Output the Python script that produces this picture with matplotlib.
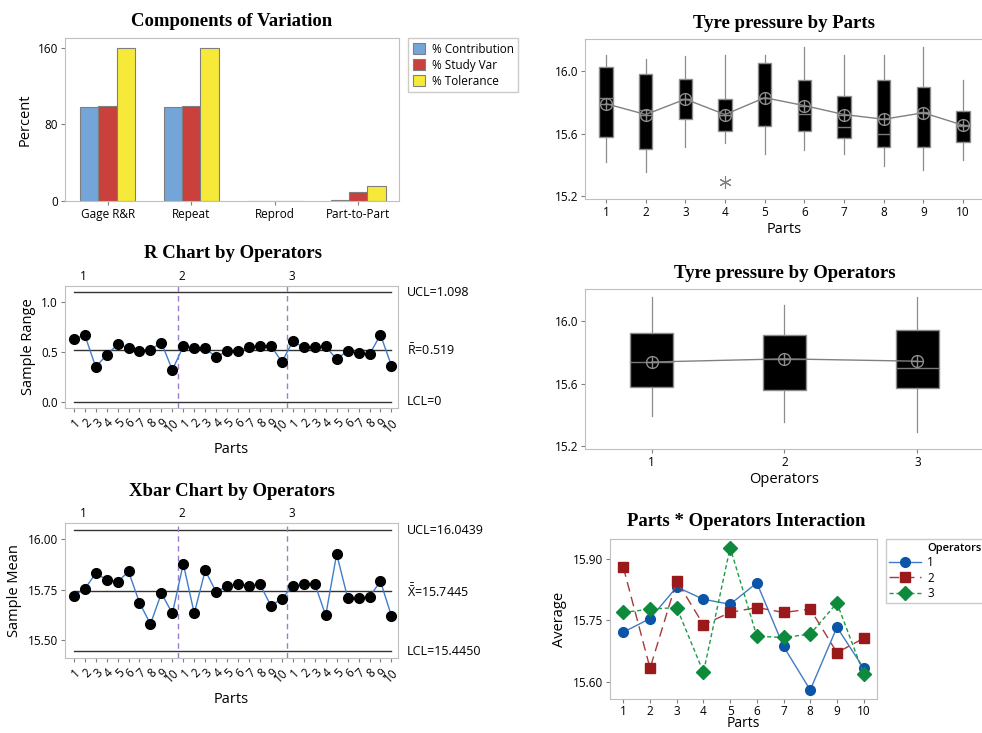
import matplotlib
matplotlib.use('Agg')
import matplotlib.pyplot as plt
import numpy as np
from matplotlib.lines import Line2D
from matplotlib.transforms import blended_transform_factory

plt.rcParams['font.family'] = ['Open Sans', 'DejaVu Sans']
plt.rcParams['mathtext.fontset'] = 'custom'
plt.rcParams['mathtext.rm'] = 'Open Sans'
plt.rcParams['mathtext.it'] = 'Open Sans:italic'
plt.rcParams['mathtext.bf'] = 'Open Sans:bold'

# ---- data ----
components = ['Gage R&R', 'Repeat', 'Reprod', 'Part-to-Part']
pct_contribution = [98.0, 97.8, 0.3, 0.8]
pct_study_var = [98.6, 98.8, 0.2, 9.0]
pct_tolerance = [159.8, 159.6, 0.1, 15.3]

part_labels = [str(i) for i in range(1, 11)]
operators = ['1', '2', '3']

range_op1 = [0.625, 0.671, 0.349, 0.468, 0.575, 0.542, 0.508, 0.522, 0.591, 0.319]
range_op2 = [0.555, 0.538, 0.538, 0.445, 0.512, 0.512, 0.545, 0.561, 0.561, 0.399]
range_op3 = [0.605, 0.545, 0.545, 0.555, 0.425, 0.512, 0.485, 0.475, 0.671, 0.362]
r_ucl, r_bar, r_lcl = 1.098, 0.519, 0.0

mean_op1 = [15.721, 15.754, 15.831, 15.801, 15.789, 15.841, 15.686, 15.580, 15.733, 15.633]
mean_op2 = [15.879, 15.633, 15.846, 15.739, 15.769, 15.781, 15.769, 15.777, 15.671, 15.706]
mean_op3 = [15.769, 15.777, 15.781, 15.623, 15.927, 15.711, 15.708, 15.716, 15.792, 15.620]
x_ucl, x_bar, x_lcl = 16.0439, 15.7445, 15.4450

# box plot summaries by part
part_whishi = [16.102, 16.076, 16.096, 16.102, 16.100, 16.153, 16.102, 16.102, 16.153, 15.941]
part_q3 = [16.025, 15.977, 15.947, 15.822, 16.049, 15.941, 15.839, 15.941, 15.894, 15.745]
part_med = [15.826, 15.747, 15.820, 15.720, 15.826, 15.722, 15.641, 15.594, 15.737, 15.645]
part_q1 = [15.578, 15.503, 15.694, 15.618, 15.645, 15.618, 15.571, 15.516, 15.516, 15.548]
part_whislo = [15.416, 15.355, 15.514, 15.539, 15.471, 15.493, 15.471, 15.391, 15.365, 15.433]
part_mean = [15.790, 15.721, 15.819, 15.721, 15.828, 15.778, 15.721, 15.691, 15.732, 15.653]
part_fliers = [[], [], [], [15.293], [], [], [], [], [], []]

# box plot summaries by operator
op_whishi = [16.153, 16.102, 16.153]
op_q3 = [15.921, 15.909, 15.943]
op_med = [15.739, 15.758, 15.700]
op_q1 = [15.578, 15.561, 15.573]
op_whislo = [15.391, 15.355, 15.293]
op_mean = [15.737, 15.757, 15.742]

# ---- figure ----
W, H = 982, 733
fig = plt.figure(figsize=(W / 100, H / 100), dpi=100)


def add_axes_px(left, top, right, bottom):
    return fig.add_axes([left / W, 1 - bottom / H, (right - left) / W, (bottom - top) / H])


def style_axes(ax):
    for s in ax.spines.values():
        s.set_color('#BFBFBF')
    ax.tick_params(color='#808080', length=3, labelsize=8.5, pad=2)


def title_px(x, y, text):
    fig.text(x / W, 1 - y / H, text, family='Liberation Serif', weight='bold',
             size=13.5, ha='center', va='center')


spine_grey = '#8C8C8C'

# 1. Components of variation
ax1 = add_axes_px(65, 38, 399, 201)
style_axes(ax1)
xpos = np.arange(len(components))
bw = 0.22
ax1.bar(xpos - bw, pct_contribution, bw, color='#74A5D8', edgecolor='#7F7F7F', lw=0.8,
        label='% Contribution')
ax1.bar(xpos, pct_study_var, bw, color='#C9403D', edgecolor='#7F7F7F', lw=0.8,
        label='% Study Var')
ax1.bar(xpos + bw, pct_tolerance, bw, color='#F6E93A', edgecolor='#7F7F7F', lw=0.8,
        label='% Tolerance')
ax1.set_xticks(xpos, components)
ax1.set_xlim(-0.51, 3.49)
ax1.set_ylim(0, 170)
ax1.set_yticks([0, 80, 160])
ax1.set_ylabel('Percent', fontsize=10.5)
ax1.legend(loc='upper left', bbox_to_anchor=(1.027, 1.0), borderaxespad=0,
           fancybox=False, edgecolor='#BFBFBF', fontsize=8.5, handlelength=1.0,
           handleheight=1.0, handletextpad=0.6, labelspacing=0.25, borderpad=0.4)
title_px(232, 21, 'Components of Variation')


def control_chart(ax, series, ucl, center, lcl, center_label, ucl_label, lcl_label, ylim, yticks, fmt, oplab_y):
    style_axes(ax)
    vals = np.concatenate(series)
    idx = np.arange(1, len(vals) + 1)
    ax.plot(idx, vals, color='#3E7ECB', lw=1, marker='o', ms=7, mfc='black', mec='black', zorder=3)
    for y in (ucl, center, lcl):
        ax.plot([idx[0], idx[-1]], [y, y], color='#333333', lw=1, zorder=2)
    n = len(series[0])
    for k in range(1, len(series)):
        ax.axvline(k * n + 0.5, color='#9A7FC8', lw=1, ls=(0, (4, 3)))
    ax.set_xlim(0.2, len(vals) + 0.6)
    ax.set_ylim(*ylim)
    ax.set_yticks(yticks, [fmt.format(t) for t in yticks])
    ax.set_xticks(idx, part_labels * len(series), rotation=45, ha='right',
                  rotation_mode='anchor', fontsize=8.5)
    ax.tick_params(axis='x', pad=3)
    ax.set_xlabel('Parts', fontsize=10.5, labelpad=5)
    tr = blended_transform_factory(ax.transAxes, ax.transData)
    for y, lab in ((ucl, ucl_label), (center, center_label), (lcl, lcl_label)):
        ax.text(1.027, y, lab, transform=tr, ha='left', va='center', fontsize=9)
    trx = blended_transform_factory(ax.transData, ax.transAxes)
    for k, op in enumerate(operators):
        ax.text(k * n + (1.9 if k == 0 else 0.9), oplab_y, op, transform=trx,
                ha='center', va='center', fontsize=8.5)


# 2. R chart
ax2 = add_axes_px(65, 286, 398, 408)
control_chart(ax2, [range_op1, range_op2, range_op3], r_ucl, r_bar, r_lcl,
              r'$\bar{\mathrm{R}}$=0.519', 'UCL=1.098', 'LCL=0',
              (-0.063, 1.16), [0.0, 0.5, 1.0], '{:.1f}', 1.08)
ax2.set_ylabel('Sample Range', fontsize=10.5)
title_px(233, 254, 'R Chart by Operators')

# 3. Xbar chart
ax3 = add_axes_px(65, 523, 398, 658)
control_chart(ax3, [mean_op1, mean_op2, mean_op3], x_ucl, x_bar, x_lcl,
              r'$\bar{\bar{\mathrm{X}}}$=15.7445', 'UCL=16.0439', 'LCL=15.4450',
              (15.412, 16.081), [15.50, 15.75, 16.00], '{:.2f}', 1.07)
ax3.set_ylabel('Sample Mean', fontsize=10.5)
title_px(232, 491, 'Xbar Chart by Operators')


def box_panel(ax, labels, whislo, q1, med, q3, whishi, means, fliers, width):
    style_axes(ax)
    stats = [dict(whislo=a, q1=b, med=c, q3=d, whishi=e, fliers=f)
             for a, b, c, d, e, f in zip(whislo, q1, med, q3, whishi, fliers)]
    pos = np.arange(1, len(labels) + 1)
    ax.bxp(stats, positions=pos, widths=width, patch_artist=True, showcaps=False,
           boxprops=dict(facecolor='black', edgecolor=spine_grey, lw=1),
           whiskerprops=dict(color=spine_grey, lw=0.9),
           medianprops=dict(color='#7A7A7A', lw=1),
           flierprops=dict(marker=(6, 2, 0), markeredgecolor='#808080', markersize=9,
                           markeredgewidth=0.8, lw=0))
    ax.plot(pos, means, color='#808080', lw=1, zorder=4)
    ax.plot(pos, means, ls='none', marker='o', ms=8.5, mfc='none', mec=spine_grey, mew=1, zorder=5)
    ax.plot(pos, means, ls='none', marker='+', ms=8.5, mec=spine_grey, mew=1, zorder=5)
    ax.set_xticks(pos, labels)
    ax.set_xlim(0.47, len(labels) + 0.53)
    ax.set_ylim(15.183, 16.202)
    ax.set_yticks([15.2, 15.6, 16.0], ['15.2', '15.6', '16.0'])


# 4. by parts
ax4 = add_axes_px(585, 39, 984, 199)
box_panel(ax4, part_labels, part_whislo, part_q1, part_med, part_q3, part_whishi,
          part_mean, part_fliers, 0.33)
ax4.set_xlabel('Parts', fontsize=10.5, labelpad=2)
title_px(784, 23, 'Tyre pressure by Parts')

# 5. by operators
ax5 = add_axes_px(585, 289, 984, 449)
box_panel(ax5, operators, op_whislo, op_q1, op_med, op_q3, op_whishi,
          op_mean, [[], [], []], 0.33)
ax5.set_xlim(0.5, 3.5)
ax5.set_xlabel('Operators', fontsize=10.5, labelpad=2)
title_px(785, 273, 'Tyre pressure by Operators')

# 6. interaction
ax6 = add_axes_px(610, 539, 877, 699)
style_axes(ax6)
parts_x = np.arange(1, 11)
h1, = ax6.plot(parts_x, mean_op1, color='#3F7CC4', lw=1, marker='o', ms=7,
               mfc='#0B55A8', mec='#0B55A8', label='1')
h2, = ax6.plot(parts_x, mean_op2, color='#A8393A', lw=1, ls=(0, (7, 4)), marker='s', ms=7,
               mfc='#9A1A1C', mec='#9A1A1C', label='2')
h3, = ax6.plot(parts_x, mean_op3, color='#1E9A4A', lw=1, ls=(0, (3, 2)), marker='D', ms=7,
               mfc='#0E8A3C', mec='#0E8A3C', label='3')
ax6.set_xticks(parts_x, part_labels)
ax6.tick_params(axis='x', pad=1)
ax6.set_xlim(0.5, 10.5)
ax6.set_ylim(15.558, 15.948)
ax6.set_yticks([15.60, 15.75, 15.90], ['15.60', '15.75', '15.90'])
ax6.set_ylabel('Average', fontsize=10.5)
ax6.set_xlabel('Parts', fontsize=10, labelpad=-1)
blank = Line2D([], [], ls='none')
leg = ax6.legend([blank, h1, h2, h3], ['Operators'] + operators, loc='upper left',
                 bbox_to_anchor=(1.033, 1.0), borderaxespad=0, fancybox=False,
                 edgecolor='#BFBFBF', fontsize=8.5, handlelength=2.7, handletextpad=0.5,
                 labelspacing=0.2, borderpad=0.3)
leg.get_texts()[0].set_fontweight('semibold')
leg.get_texts()[0].set_fontsize(8)
title_px(746, 522, 'Parts * Operators Interaction')

fig.savefig('out.png', dpi=100)
